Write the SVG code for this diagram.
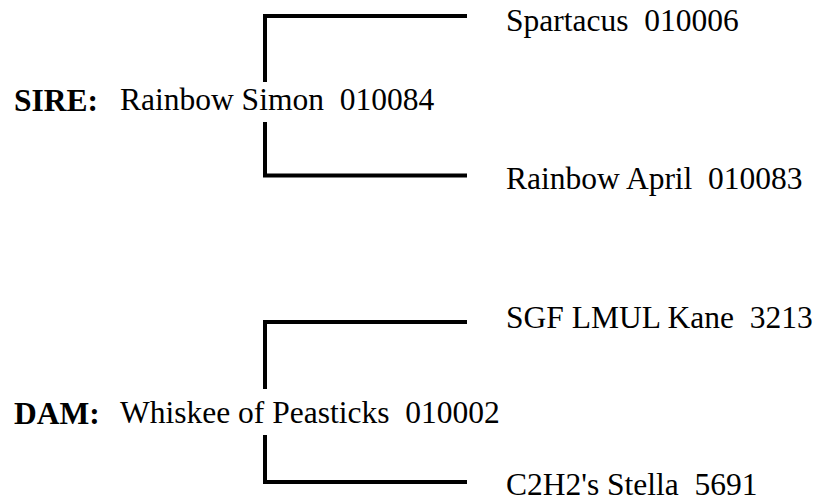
<svg xmlns="http://www.w3.org/2000/svg" width="814" height="503" viewBox="0 0 814 503">
<style>
.t{font-family:'Liberation Serif','Times New Roman',serif;font-size:31.5px;fill:#000}
.b{font-weight:bold}
.c{fill:none;stroke:#000;stroke-width:4;stroke-linejoin:miter;stroke-linecap:butt}
</style>
<rect width="814" height="503" fill="#fff"/>
<g id="connectors">
<path class="c" d="M467,16 H265 V82"/>
<path class="c" d="M265,122 V175.5 H467"/>
<path class="c" d="M467,322 H265 V389"/>
<path class="c" d="M265,435 V482 H467"/>
</g>
<g id="sire-label"><text class="t b" x="14" y="111">SIRE:</text></g>
<g id="sire"><text class="t" x="120" y="110" xml:space="preserve">Rainbow Simon  010084</text></g>
<g id="spartacus"><text class="t" x="506" y="31" xml:space="preserve">Spartacus  010006</text></g>
<g id="rainbow-april"><text class="t" x="506" y="189" xml:space="preserve">Rainbow April  010083</text></g>
<g id="dam-label"><text class="t b" x="14" y="424">DAM:</text></g>
<g id="dam"><text class="t" x="120" y="423" xml:space="preserve">Whiskee of Peasticks  010002</text></g>
<g id="sgf"><text class="t" x="506" y="328" xml:space="preserve">SGF LMUL Kane  3213</text></g>
<g id="stella"><text class="t" x="506" y="495" xml:space="preserve">C2H2's Stella  5691</text></g>
</svg>
